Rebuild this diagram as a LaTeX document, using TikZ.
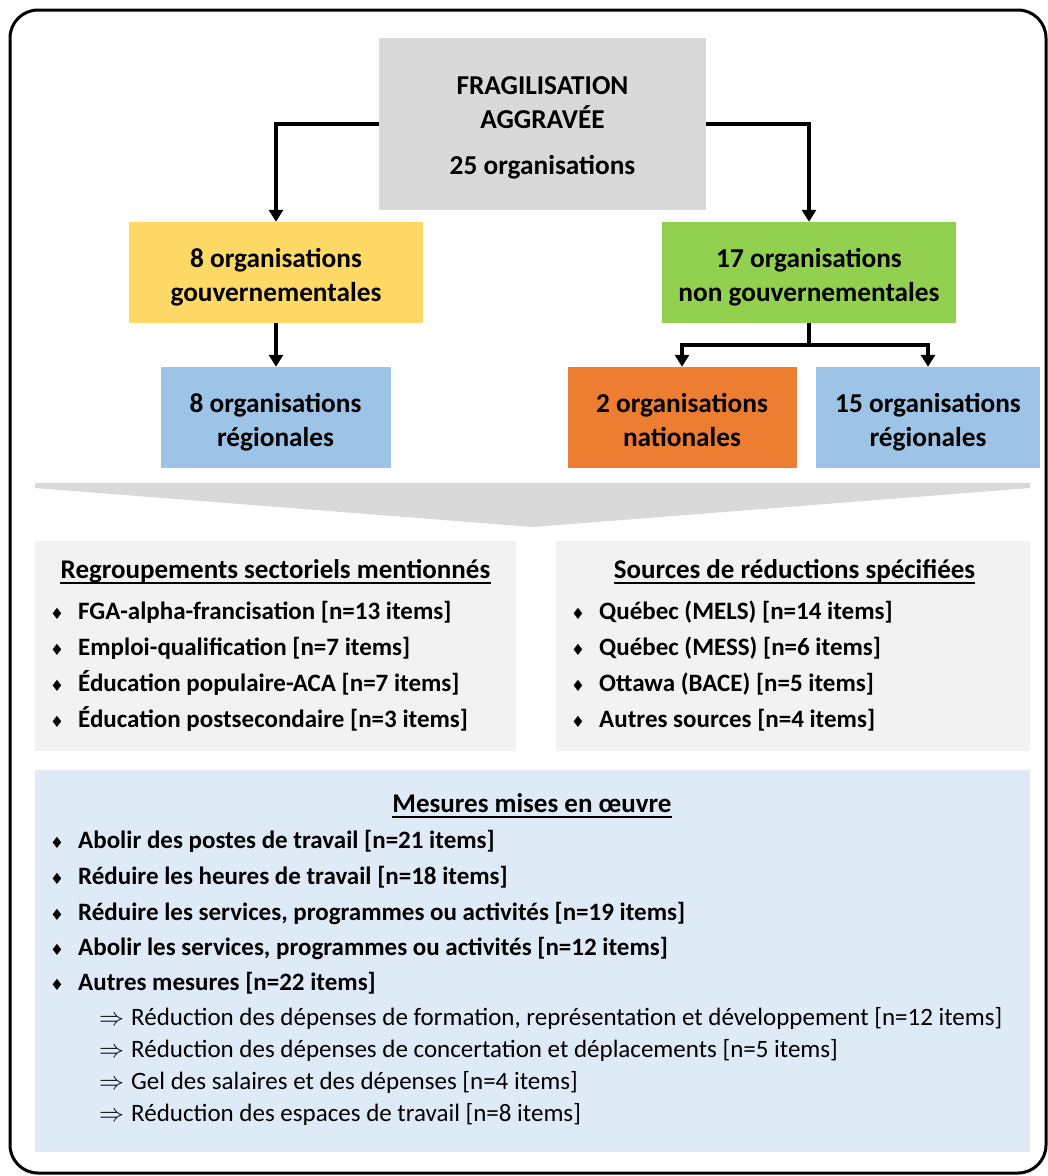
\documentclass[tikz,border=0pt]{standalone}
\usepackage{fontspec}
\setmainfont{Carlito}
\newfontfamily\symbfont{DejaVu Sans}
\usetikzlibrary{arrows.meta,positioning}
\definecolor{boxgrey}{HTML}{D9D9D9}
\definecolor{panelgrey}{HTML}{F2F2F2}
\definecolor{panelblue}{HTML}{DEEBF7}
\definecolor{yellowbox}{HTML}{FFD966}
\definecolor{greenbox}{HTML}{92D050}
\definecolor{orangebox}{HTML}{ED7D31}
\definecolor{bluebox}{HTML}{9DC3E6}
\newcommand{\puce}{\makebox[28pt][l]{\symbfont\fontsize{15.5}{15}\selectfont ♦}}
\newcommand{\fleche}{\makebox[32pt][l]{$\Rightarrow$}}
\newcommand{\ligne}{\rule[-5.5pt]{0pt}{34pt}}
\begin{document}
\begin{tikzpicture}[x=1pt,y=-1pt,
	orgbox/.style={fill=#1, inner sep=0pt, minimum height=101pt, align=center,
		font=\fontsize{27.3}{34}\selectfont\bfseries},
	connect/.style={line width=3.2pt},
	arrow/.style={connect, -{Triangle[width=14pt,length=12pt]}},
	heading/.style={anchor=base, inner sep=0pt, font=\fontsize{27}{30}\selectfont\bfseries},
	item/.style={anchor=base west, inner sep=0pt, font=\fontsize{25}{30}\selectfont\bfseries},
	subitem/.style={anchor=base west, inner sep=0pt, font=\fontsize{25}{30}\selectfont},
	underl/.style={line width=1.8pt}]
	\useasboundingbox (0,0) rectangle (1048,1176);
	\draw [line width=3pt, rounded corners=28pt] (10,10) rectangle (1046,1173);

	\node [orgbox=boxgrey, minimum width=327pt, minimum height=172pt] (frag) at (542.5,124)
		{\ligne FRAGILISATION\\\ligne AGGRAVÉE\\[12pt]\rule[-8pt]{0pt}{34pt}25 organisations};
	\node [orgbox=yellowbox, minimum width=294pt] (gouv) at (276,272.5)
		{\ligne 8 organisations\\\ligne gouvernementales};
	\node [orgbox=greenbox, minimum width=294pt] (nongouv) at (809,272.5)
		{\ligne 17 organisations\\\ligne non gouvernementales};
	\node [orgbox=bluebox, minimum width=230pt] (regA) at (275.5,417.5)
		{\ligne 8 organisations\\\ligne régionales};
	\node [orgbox=orangebox, minimum width=229pt] (nat) at (682,417.5)
		{\ligne 2 organisations\\\ligne nationales};
	\node [orgbox=bluebox, minimum width=224pt] (regB) at (928,417.5)
		{\ligne 15 organisations\\\ligne régionales};

	\draw [arrow] (frag.west) -| (gouv.north);
	\draw [arrow] (frag.east) -| (nongouv.north);
	\draw [arrow] (gouv.south) -- (gouv.south |- regA.north);
	\coordinate (split) at (809,345);
	\draw [connect] (nongouv.south) -- (split);
	\draw [arrow] (split) -| (nat.north);
	\draw [arrow] (split) -| (regB.north);

	\fill [boxgrey] (35,483) -- (1030,483) -- (1030,488) -- (533,527) -- (35,488) -- cycle;

	\fill [panelgrey] (35,541) rectangle (516,751);
	\fill [panelgrey] (556,541) rectangle (1030,751);
	\fill [panelblue] (35,770) rectangle (1030,1152);

	\node [heading] (titreA) at (275.5,578) {Regroupements sectoriels mentionnés};
	\draw [underl] ([yshift=-5pt]titreA.base west) -- ([yshift=-5pt]titreA.base east);
	\node [item] (a1) at (50,619) {\puce FGA-alpha-francisation [n=13 items]};
	\node [item] (a2) at (50,655) {\puce Emploi-qualification [n=7 items]};
	\node [item] (a3) at (50,691) {\puce Éducation populaire-ACA [n=7 items]};
	\node [item] (a4) at (50,727) {\puce Éducation postsecondaire [n=3 items]};

	\node [heading] (titreB) at (794.5,578) {Sources de réductions spécifiées};
	\draw [underl] ([yshift=-5pt]titreB.base west) -- ([yshift=-5pt]titreB.base east);
	\node [item] (b1) at (571,619) {\puce Québec (MELS) [n=14 items]};
	\node [item] (b2) at (571,655) {\puce Québec (MESS) [n=6 items]};
	\node [item] (b3) at (571,691) {\puce Ottawa (BACE) [n=5 items]};
	\node [item] (b4) at (571,727) {\puce Autres sources [n=4 items]};

	\node [heading] (titreC) at (532,812) {Mesures mises en œuvre};
	\draw [underl] ([yshift=-5pt]titreC.base west) -- ([yshift=-5pt]titreC.base east);
	\node [item] (m1) at (50,848) {\puce Abolir des postes de travail [n=21 items]};
	\node [item] (m2) at (50,884) {\puce Réduire les heures de travail [n=18 items]};
	\node [item] (m3) at (50,920) {\puce Réduire les services, programmes ou activités [n=19 items]};
	\node [item] (m4) at (50,955) {\puce Abolir les services, programmes ou activités [n=12 items]};
	\node [item] (m5) at (50,990) {\puce Autres mesures [n=22 items]};
	\node [subitem] (s1) at (99,1025) {\fleche Réduction des dépenses de formation, représentation et développement [n=12 items]};
	\node [subitem] (s2) at (99,1057) {\fleche Réduction des dépenses de concertation et déplacements [n=5 items]};
	\node [subitem] (s3) at (99,1089) {\fleche Gel des salaires et des dépenses [n=4 items]};
	\node [subitem] (s4) at (99,1121) {\fleche Réduction des espaces de travail [n=8 items]};
\end{tikzpicture}
\end{document}
